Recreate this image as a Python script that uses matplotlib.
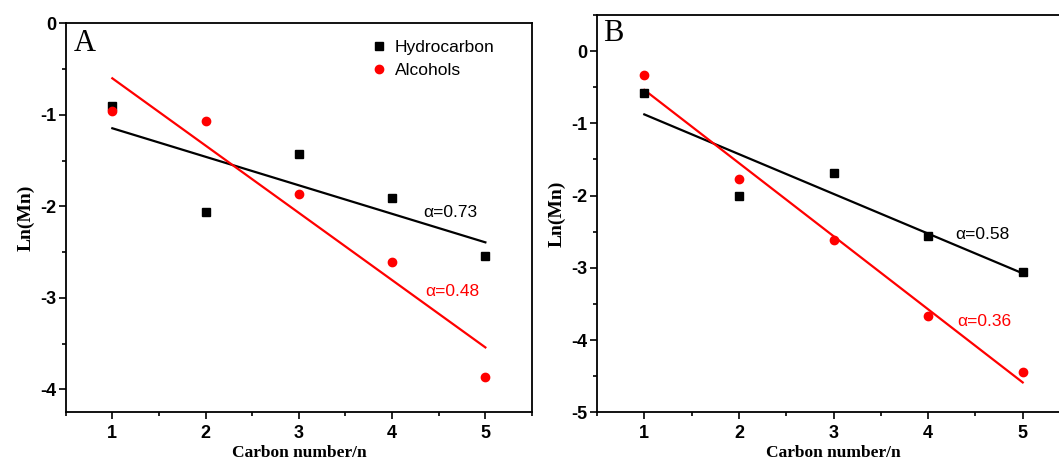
import numpy as np
import matplotlib
matplotlib.use("Agg")
import matplotlib.pyplot as plt
from matplotlib.ticker import MultipleLocator

plt.rcParams["axes.unicode_minus"] = False

carbon_n = [1, 2, 3, 4, 5]
hydro_A = [-0.904, -2.066, -1.43, -1.91, -2.54]
alco_A = [-0.955, -1.07, -1.86, -2.61, -3.86]
hydro_B = [-0.584, -2.00, -1.685, -2.555, -3.057]
alco_B = [-0.327, -1.768, -2.61, -3.66, -4.443]
alpha_A = ["α=0.73", "α=0.48"]
alpha_B = ["α=0.58", "α=0.36"]

W, H = 1059, 461
fig = plt.figure(figsize=(W / 100, H / 100), dpi=100)

sans = "Liberation Sans"
serif = "Liberation Serif"

def style(ax, ylim, ymajor):
    ax.set_xlim(0.5, 5.5)
    ax.set_ylim(*ylim)
    ax.xaxis.set_major_locator(MultipleLocator(1))
    ax.xaxis.set_minor_locator(MultipleLocator(0.5))
    ax.yaxis.set_major_locator(MultipleLocator(ymajor))
    ax.yaxis.set_minor_locator(MultipleLocator(ymajor / 2))
    ax.tick_params(which="both", direction="out", top=False, right=False, width=1.2)
    ax.tick_params(which="major", length=5)
    ax.tick_params(which="minor", length=3)
    ax.tick_params(axis="y", pad=2)
    ax.tick_params(axis="x", pad=4)
    for lab in ax.get_xticklabels() + ax.get_yticklabels():
        lab.set_fontfamily(sans)
        lab.set_fontweight("bold")
        lab.set_fontsize(13)
    for s in ax.spines.values():
        s.set_linewidth(1.3)
    ax.set_xlabel("Carbon number/n", fontfamily=serif, fontweight="bold", fontsize=12.5, labelpad=2)
    ax.set_ylabel("Ln(Mn)", fontfamily=serif, fontweight="bold", fontsize=14, labelpad=4)

def draw(ax, hy, al, labels, pos):
    x = np.array(carbon_n, dtype=float)
    ax.plot(x, hy, "s", color="black", ms=5.3, label="Hydrocarbon", zorder=3)
    ax.plot(x, al, "o", color="red", ms=6, label="Alcohols", zorder=3)
    for y, c in ((hy, "black"), (al, "red")):
        k, b = np.polyfit(x, y, 1)
        ax.plot(x[[0, -1]], k * x[[0, -1]] + b, "-", color=c, lw=1.6, zorder=2)
    ax.text(pos[0][0], pos[0][1], labels[0], color="black", fontfamily=sans, fontsize=12.5,
            ha="left", va="center")
    ax.text(pos[1][0], pos[1][1], labels[1], color="red", fontfamily=sans, fontsize=12.5,
            ha="left", va="center")

axA = fig.add_axes([65.7 / W, 1 - 412.3 / H, (532 - 65.7) / W, (412.3 - 23.3) / H])
draw(axA, hydro_A, alco_A, alpha_A, [(4.33, -2.07), (4.355, -2.93)])
style(axA, (-4.25, 0), 1)
axA.text(0.017, 0.948, "A", transform=axA.transAxes, fontfamily=serif, fontsize=22,
         ha="left", va="center")
leg = axA.legend(loc="upper left", bbox_to_anchor=(0.635, 0.975), frameon=False,
                 prop={"family": sans, "size": 12.5}, handletextpad=0.3, labelspacing=0.45,
                 handlelength=1.2, borderaxespad=0)

axB = fig.add_axes([597 / W, 1 - 412.3 / H, (1070 - 597) / W, (412.3 - 15) / H])
draw(axB, hydro_B, alco_B, alpha_B, [(4.29, -2.54), (4.31, -3.74)])
style(axB, (-5, 0.5), 1)
axB.text(0.013, 0.954, "B", transform=axB.transAxes, fontfamily=serif, fontsize=22,
         ha="left", va="center")

fig.savefig("out.png", dpi=100)
